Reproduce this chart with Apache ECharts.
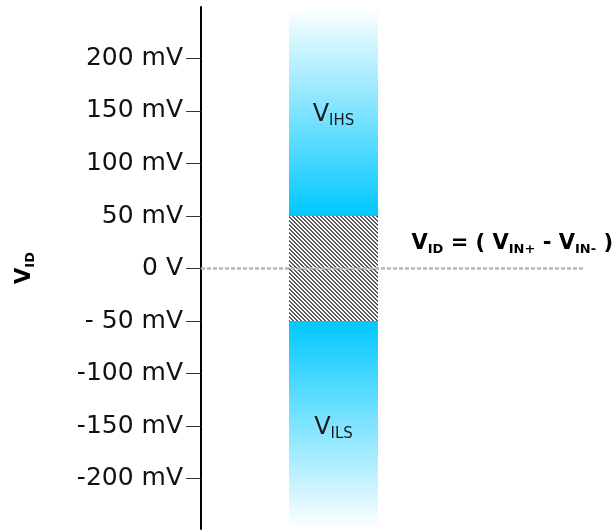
<!DOCTYPE html>
<html><head><meta charset="utf-8">
<script src="https://cdn.jsdelivr.net/npm/echarts@6/dist/echarts.min.js"></script>
<style>html,body{margin:0;padding:0;background:#fff}#chart{width:616px;height:531px}</style>
</head><body><div id="chart"></div>
<script>
// ---- data ----
const tickValues = [-200, -150, -100, -50, 0, 50, 100, 150, 200];
const tickLabels = ['-200 mV', '-150 mV', '-100 mV', '- 50 mV', '0 V', '50 mV', '100 mV', '150 mV', '200 mV'];
const axisMin = -248;
const axisMax = 249;
const bandCategories = ['VID'];
const vihThreshold = [50];
const vilThreshold = [-50];
const bandTop = [249];
const bandBottom = [-248];
const referenceCategories = ['start', 'end'];
const referenceLevel = [0, 0];

// ---- styles ----
const FONT = 'DejaVu Sans';
function hatchPattern() {
  const c = document.createElement('canvas');
  c.width = 4; c.height = 4;
  const ctx = c.getContext('2d');
  ctx.fillStyle = '#ffffff';
  ctx.fillRect(0, 0, 4, 4);
  ctx.fillStyle = '#5a5a5a';
  for (let y = 0; y < 4; y++) {
    for (let x = 0; x < 4; x++) {
      const d = ((x - y) % 4 + 4) % 4;
      if (d === 0 || d === 1) ctx.fillRect(x, y, 1, 1);
    }
  }
  return { image: c, repeat: 'repeat' };
}
const hatch = hatchPattern();
const gradDown = { type: 'linear', x: 0, y: 0, x2: 0, y2: 1,
  colorStops: [{ offset: 0, color: '#ffffff' }, { offset: 1, color: '#00c8ff' }] };
const gradUp = { type: 'linear', x: 0, y: 0, x2: 0, y2: 1,
  colorStops: [{ offset: 0, color: '#00c8ff' }, { offset: 1, color: '#ffffff' }] };

const bandRich = {
  v: { fontFamily: FONT, fontSize: 24, lineHeight: 28, color: '#1a1a1a' },
  s: { fontFamily: FONT, fontSize: 15, lineHeight: 22, verticalAlign: 'bottom', color: '#1a1a1a' }
};

const chart = echarts.init(document.getElementById('chart'));
chart.setOption({
  animation: false,
  backgroundColor: '#ffffff',
  title: {
    text: '{v|V}{s|ID}{v| = ( V}{s|IN+}{v| - V}{s|IN-}{v| )}',
    right: 3, top: 231, padding: 0,
    textStyle: {
      rich: {
        v: { fontFamily: FONT, fontWeight: 'bold', fontSize: 21, lineHeight: 25, color: '#000' },
        s: { fontFamily: FONT, fontWeight: 'bold', fontSize: 13, lineHeight: 17, verticalAlign: 'bottom', color: '#000' }
      }
    }
  },
  grid: [
    { left: 201, top: 7, width: 265, height: 522 },
    { left: 201, top: 7, right: 31, height: 522 }
  ],
  xAxis: [
    { type: 'category', gridIndex: 0, data: bandCategories, show: false },
    { type: 'category', gridIndex: 1, data: referenceCategories, boundaryGap: false, show: false }
  ],
  yAxis: [
    {
      type: 'value', gridIndex: 0, min: axisMin, max: axisMax,
      name: '{v|V}{s|ID}', nameLocation: 'middle', nameRotate: 90, nameGap: 164,
      nameTextStyle: {
        rich: {
          v: { fontFamily: FONT, fontWeight: 'bold', fontSize: 21, lineHeight: 24, color: '#000' },
          s: { fontFamily: FONT, fontWeight: 'bold', fontSize: 13, lineHeight: 17, verticalAlign: 'bottom', color: '#000' }
        }
      },
      axisLine: { show: true, onZero: false, lineStyle: { color: '#000', width: 2 } },
      axisTick: { show: true, length: 15, customValues: tickValues, lineStyle: { color: '#333', width: 1 } },
      axisLabel: {
        show: true, margin: 18, customValues: tickValues,
        fontFamily: FONT, fontSize: 25, color: '#111',
        formatter: function (v) {
          const i = tickValues.indexOf(Math.round(v));
          return i >= 0 ? tickLabels[i] : '';
        }
      },
      splitLine: { show: false }
    },
    { type: 'value', gridIndex: 1, min: axisMin, max: axisMax, show: false }
  ],
  series: [
    { name: 'dead+', type: 'bar', stack: 'band', xAxisIndex: 0, yAxisIndex: 0, barWidth: 89,
      data: vihThreshold, itemStyle: { color: hatch } },
    { name: 'VIHS', type: 'bar', stack: 'band', xAxisIndex: 0, yAxisIndex: 0, barWidth: 89,
      data: bandTop.map((t, i) => t - vihThreshold[i]), itemStyle: { color: gradDown },
      label: { show: true, position: 'inside', offset: [0, 3], formatter: '{v|V}{s|IHS}', rich: bandRich } },
    { name: 'dead-', type: 'bar', stack: 'band', xAxisIndex: 0, yAxisIndex: 0, barWidth: 89,
      data: vilThreshold, itemStyle: { color: hatch } },
    { name: 'VILS', type: 'bar', stack: 'band', xAxisIndex: 0, yAxisIndex: 0, barWidth: 89,
      data: bandBottom.map((b, i) => b - vilThreshold[i]), itemStyle: { color: gradUp },
      label: { show: true, position: 'inside', offset: [0, 3], formatter: '{v|V}{s|ILS}', rich: bandRich } },
    { name: 'ref', type: 'line', xAxisIndex: 1, yAxisIndex: 1, z: 5, data: referenceLevel,
      symbol: 'none', silent: true,
      lineStyle: { color: '#b8b8b8', width: 2.5, type: [4, 2] } }
  ]
});
</script>
</body></html>
